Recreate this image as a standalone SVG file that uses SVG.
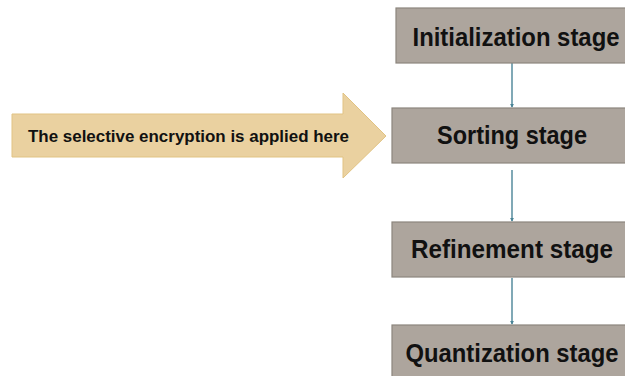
<svg xmlns="http://www.w3.org/2000/svg" width="625" height="376" viewBox="0 0 625 376">
  <style>
    .stage { fill: #ada59d; stroke: #8c857d; stroke-width: 1.2; }
    .stage-label { font-family: "Liberation Sans Narrow", "Liberation Sans", Arial, sans-serif; font-weight: bold; font-size: 25px; fill: #111; text-anchor: middle; }
    .link { stroke: #4a8497; stroke-width: 1.4; fill: none; marker-end: url(#tip); }
    .callout { fill: #ead1a0; stroke: #e1c383; stroke-width: 1; }
    .callout-label { font-family: "Liberation Sans", Arial, sans-serif; font-weight: bold; font-size: 17px; fill: #111; }
  </style>
  <defs>
    <marker id="tip" viewBox="0 0 6 6" refX="5" refY="3" markerWidth="3" markerHeight="3" orient="auto">
      <path d="M0,0 L6,3 L0,6 z" fill="#4a8497"/>
    </marker>
  </defs>
  <rect width="625" height="376" fill="#ffffff"/>

  <g id="connectors">
    <line class="link" x1="512" y1="63" x2="512" y2="107"/>
    <line class="link" x1="512" y1="170" x2="512" y2="221"/>
    <line class="link" x1="512" y1="278" x2="512" y2="324"/>
  </g>

  <g id="callout">
    <path class="callout" d="M12,114 L343,114 L343,93 L386,136 L343,178 L343,157 L12,157 z"/>
    <text class="callout-label" x="28" y="142" textLength="321" lengthAdjust="spacingAndGlyphs">The selective encryption is applied here</text>
  </g>

  <g id="initialization">
    <rect class="stage" x="396" y="8" width="240" height="55"/>
    <text class="stage-label" x="516" y="46" textLength="207" lengthAdjust="spacingAndGlyphs">Initialization stage</text>
  </g>

  <g id="sorting">
    <rect class="stage" x="392" y="108" width="244" height="55"/>
    <text class="stage-label" x="512" y="144" textLength="150" lengthAdjust="spacingAndGlyphs">Sorting stage</text>
  </g>

  <g id="refinement">
    <rect class="stage" x="392" y="222" width="244" height="55"/>
    <text class="stage-label" x="512" y="258" textLength="202" lengthAdjust="spacingAndGlyphs">Refinement stage</text>
  </g>

  <g id="quantization">
    <rect class="stage" x="392" y="325" width="244" height="60"/>
    <text class="stage-label" x="512" y="362" textLength="213" lengthAdjust="spacingAndGlyphs">Quantization stage</text>
  </g>
</svg>
